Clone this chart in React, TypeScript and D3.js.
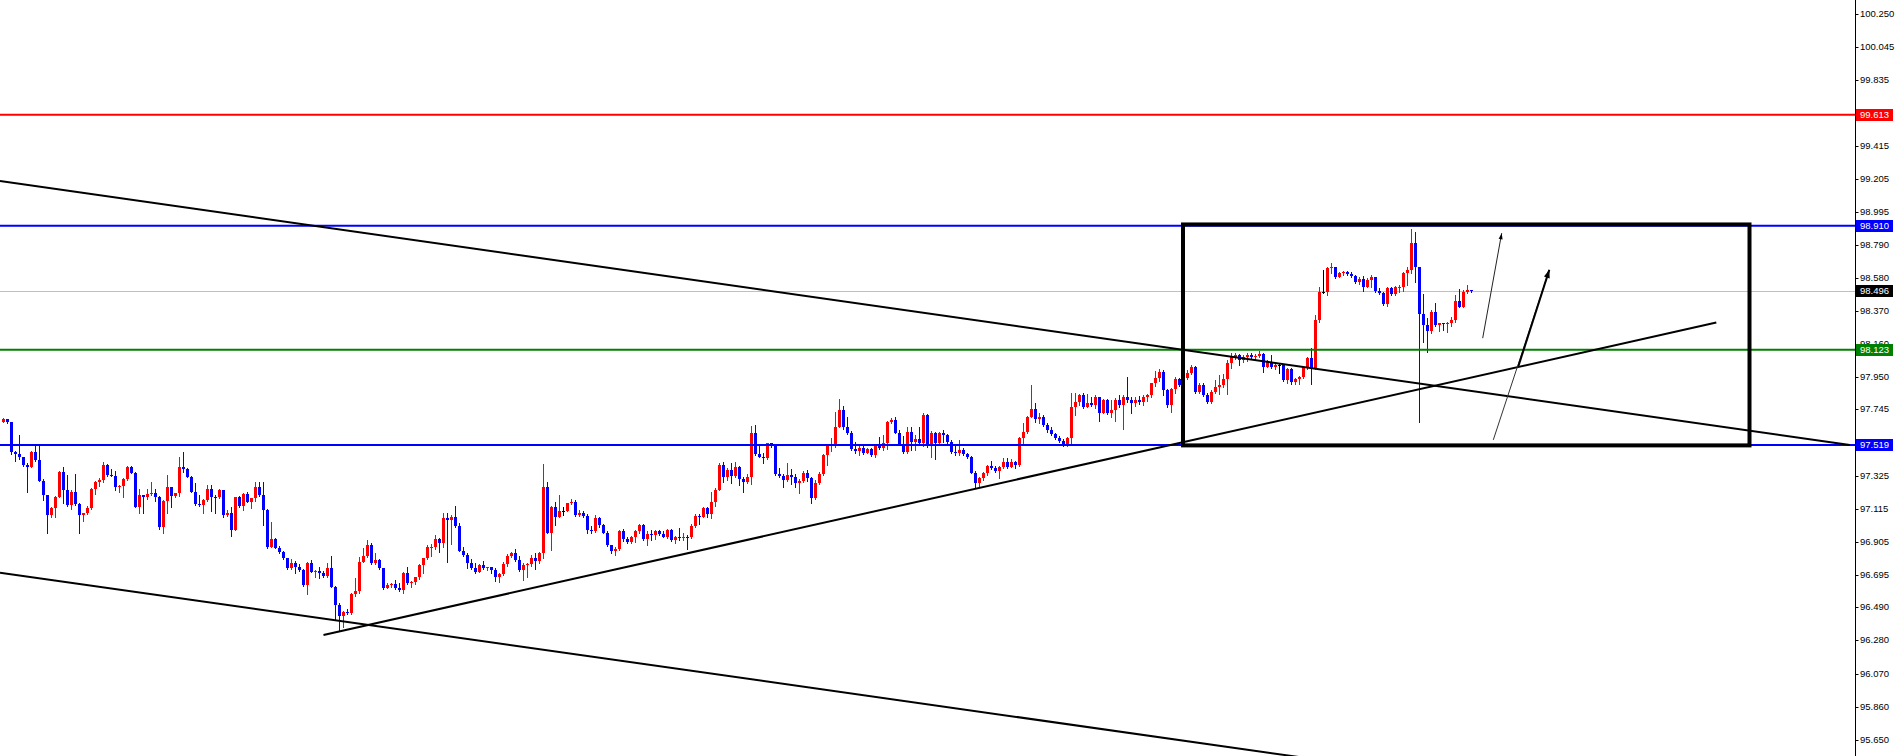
import React from 'react';
import * as d3 from 'd3';

const W = 1897;
const H = 756;
const AXIS_X = 1855.5;

const firstOpen = 97.668;

const closes = [
  97.683, 97.668, 97.472, 97.463, 97.446, 97.393, 97.383, 97.478, 97.425, 97.294,
  97.203, 97.076, 97.118, 97.192, 97.351, 97.235, 97.140, 97.224, 97.146, 97.076,
  97.087, 97.118, 97.239, 97.288, 97.298, 97.393, 97.330, 97.324, 97.252, 97.260,
  97.305, 97.383, 97.345, 97.129, 97.203, 97.188, 97.209, 97.218, 97.192, 97.002,
  97.167, 97.252, 97.197, 97.214, 97.383, 97.366, 97.319, 97.224, 97.146, 97.140,
  97.171, 97.239, 97.192, 97.188, 97.235, 97.076, 97.087, 96.981, 97.188, 97.133,
  97.209, 97.161, 97.182, 97.252, 97.203, 97.108, 96.875, 96.922, 96.869, 96.844,
  96.801, 96.738, 96.774, 96.744, 96.727, 96.632, 96.774, 96.717, 96.723, 96.711,
  96.689, 96.738, 96.622, 96.505, 96.436, 96.463, 96.453, 96.575, 96.596, 96.780,
  96.816, 96.886, 96.770, 96.791, 96.738, 96.611, 96.632, 96.639, 96.611, 96.600,
  96.710, 96.643, 96.653, 96.681, 96.759, 96.801, 96.871, 96.875, 96.922, 96.901,
  97.055, 97.044, 97.066, 97.006, 96.850, 96.822, 96.770, 96.738, 96.717, 96.759,
  96.738, 96.744, 96.727, 96.681, 96.702, 96.765, 96.816, 96.833, 96.791, 96.727,
  96.759, 96.765, 96.801, 96.787, 96.833, 97.256, 96.964, 97.129, 97.066, 97.104,
  97.104, 97.150, 97.161, 97.076, 97.091, 97.070, 96.981, 96.971, 97.055, 97.013,
  96.964, 96.886, 96.850, 96.858, 96.977, 96.922, 96.907, 96.934, 96.977, 97.013,
  96.922, 96.956, 96.949, 96.971, 96.956, 96.939, 96.981, 96.918, 96.934, 96.928,
  96.939, 96.934, 97.006, 97.070, 97.066, 97.118, 97.082, 97.161, 97.235, 97.393,
  97.319, 97.362, 97.323, 97.378, 97.302, 97.288, 97.319, 97.598, 97.463, 97.446,
  97.436, 97.531, 97.510, 97.336, 97.323, 97.298, 97.330, 97.315, 97.277, 97.294,
  97.345, 97.309, 97.182, 97.281, 97.336, 97.457, 97.514, 97.526, 97.636, 97.742,
  97.636, 97.594, 97.493, 97.484, 97.499, 97.471, 97.493, 97.457, 97.514, 97.499,
  97.535, 97.668, 97.679, 97.598, 97.526, 97.478, 97.604, 97.541, 97.556, 97.531,
  97.710, 97.510, 97.594, 97.531, 97.594, 97.583, 97.541, 97.478, 97.467, 97.488,
  97.463, 97.442, 97.345, 97.277, 97.309, 97.340, 97.387, 97.372, 97.357, 97.378,
  97.414, 97.383, 97.414, 97.393, 97.562, 97.604, 97.700, 97.746, 97.683, 97.695,
  97.647, 97.615, 97.590, 97.562, 97.548, 97.520, 97.562, 97.763, 97.789, 97.837,
  97.763, 97.784, 97.774, 97.822, 97.725, 97.805, 97.721, 97.742, 97.805, 97.774,
  97.826, 97.805, 97.784, 97.805, 97.789, 97.822, 97.837, 97.911, 97.943, 97.985,
  97.869, 97.774, 97.873, 97.936, 97.901, 97.943, 97.979, 98.017, 97.858, 97.901,
  97.837, 97.795, 97.858, 97.890, 97.901, 97.937, 98.038, 98.076, 98.091, 98.059,
  98.080, 98.091, 98.076, 98.084, 98.097, 98.017, 98.048, 98.017, 98.027, 98.027,
  97.932, 98.000, 97.922, 97.937, 97.949, 98.013, 98.070, 98.006, 98.313, 98.492,
  98.492, 98.640, 98.651, 98.583, 98.613, 98.617, 98.604, 98.592, 98.550, 98.571,
  98.520, 98.566, 98.583, 98.499, 98.486, 98.414, 98.514, 98.478, 98.520, 98.524,
  98.609, 98.630, 98.803, 98.647, 98.351, 98.281, 98.245, 98.366, 98.281, 98.292,
  98.285, 98.292, 98.313, 98.435, 98.397, 98.492, 98.500, 98.496,
];

const highs = [
  97.689, 97.687, 97.668, 97.482, 97.584, 97.446, 97.404, 97.484, 97.520, 97.510,
  97.302, 97.203, 97.125, 97.197, 97.357, 97.383, 97.330, 97.231, 97.336, 97.154,
  97.091, 97.133, 97.248, 97.292, 97.309, 97.410, 97.397, 97.366, 97.357, 97.267,
  97.311, 97.389, 97.387, 97.349, 97.239, 97.205, 97.239, 97.288, 97.239, 97.197,
  97.171, 97.330, 97.252, 97.218, 97.442, 97.474, 97.376, 97.324, 97.277, 97.203,
  97.176, 97.267, 97.267, 97.201, 97.239, 97.235, 97.108, 97.129, 97.192, 97.197,
  97.214, 97.224, 97.186, 97.288, 97.288, 97.288, 97.112, 97.034, 96.932, 96.880,
  96.848, 96.806, 96.795, 96.785, 96.765, 96.732, 96.778, 96.791, 96.727, 96.749,
  96.723, 96.774, 96.818, 96.626, 96.516, 96.470, 96.478, 96.584, 96.675, 96.812,
  96.865, 96.918, 96.897, 96.833, 96.795, 96.742, 96.647, 96.643, 96.664, 96.647,
  96.717, 96.749, 96.658, 96.685, 96.763, 96.806, 96.886, 96.892, 96.949, 96.928,
  97.087, 97.091, 97.076, 97.133, 97.023, 96.871, 96.833, 96.795, 96.770, 96.765,
  96.785, 96.749, 96.744, 96.738, 96.711, 96.780, 96.829, 96.844, 96.858, 96.816,
  96.770, 96.774, 96.822, 96.837, 96.844, 97.400, 97.283, 97.133, 97.161, 97.203,
  97.129, 97.154, 97.176, 97.171, 97.108, 97.104, 97.082, 97.006, 97.076, 97.066,
  97.019, 96.975, 96.886, 96.871, 96.981, 96.985, 96.934, 96.943, 96.981, 97.019,
  97.019, 96.971, 96.981, 96.981, 96.981, 96.977, 96.985, 96.985, 96.943, 96.992,
  96.960, 96.949, 97.019, 97.082, 97.082, 97.129, 97.129, 97.224, 97.245, 97.404,
  97.414, 97.372, 97.404, 97.414, 97.387, 97.319, 97.336, 97.641, 97.647, 97.520,
  97.471, 97.535, 97.526, 97.526, 97.372, 97.336, 97.408, 97.366, 97.336, 97.302,
  97.357, 97.362, 97.319, 97.298, 97.351, 97.463, 97.526, 97.562, 97.731, 97.810,
  97.767, 97.700, 97.611, 97.541, 97.510, 97.510, 97.499, 97.499, 97.520, 97.569,
  97.583, 97.674, 97.689, 97.695, 97.615, 97.577, 97.632, 97.636, 97.583, 97.636,
  97.725, 97.717, 97.611, 97.604, 97.604, 97.615, 97.590, 97.552, 97.520, 97.552,
  97.499, 97.467, 97.450, 97.357, 97.319, 97.351, 97.393, 97.421, 97.387, 97.387,
  97.436, 97.436, 97.429, 97.418, 97.573, 97.657, 97.704, 97.901, 97.784, 97.721,
  97.710, 97.657, 97.632, 97.598, 97.577, 97.556, 97.573, 97.848, 97.848, 97.843,
  97.848, 97.843, 97.822, 97.837, 97.826, 97.810, 97.810, 97.805, 97.816, 97.837,
  97.837, 97.953, 97.822, 97.822, 97.831, 97.837, 97.843, 97.915, 97.991, 98.000,
  97.996, 97.873, 97.879, 97.953, 97.943, 97.964, 97.996, 98.027, 98.021, 97.911,
  97.911, 97.848, 97.869, 97.932, 97.964, 97.971, 98.059, 98.101, 98.106, 98.097,
  98.091, 98.101, 98.101, 98.097, 98.118, 98.101, 98.059, 98.091, 98.038, 98.040,
  98.021, 98.006, 98.006, 97.943, 97.958, 98.017, 98.076, 98.133, 98.345, 98.524,
  98.630, 98.651, 98.672, 98.651, 98.619, 98.626, 98.626, 98.619, 98.598, 98.583,
  98.588, 98.577, 98.598, 98.583, 98.514, 98.492, 98.524, 98.524, 98.528, 98.535,
  98.619, 98.651, 98.888, 98.867, 98.651, 98.478, 98.323, 98.376, 98.419, 98.296,
  98.292, 98.302, 98.334, 98.471, 98.507, 98.503, 98.535, 98.503,
];

const lows = [
  97.666, 97.662, 97.463, 97.421, 97.433, 97.389, 97.224, 97.378, 97.421, 97.290,
  97.171, 96.960, 97.066, 97.066, 97.188, 97.150, 97.133, 97.112, 97.142, 96.964,
  97.040, 97.083, 97.114, 97.209, 97.262, 97.284, 97.326, 97.320, 97.231, 97.222,
  97.192, 97.298, 97.341, 97.125, 97.091, 97.091, 97.180, 97.201, 97.167, 96.985,
  96.960, 97.087, 97.129, 97.192, 97.197, 97.351, 97.315, 97.220, 97.142, 97.133,
  97.087, 97.167, 97.104, 97.091, 97.184, 97.066, 97.070, 96.943, 96.981, 97.129,
  97.108, 97.157, 97.118, 97.167, 97.199, 97.013, 96.869, 96.871, 96.865, 96.837,
  96.795, 96.734, 96.734, 96.710, 96.723, 96.628, 96.573, 96.713, 96.685, 96.675,
  96.685, 96.685, 96.617, 96.410, 96.347, 96.368, 96.448, 96.448, 96.565, 96.580,
  96.776, 96.812, 96.765, 96.765, 96.734, 96.607, 96.613, 96.617, 96.607, 96.596,
  96.584, 96.638, 96.622, 96.638, 96.670, 96.711, 96.795, 96.816, 96.858, 96.844,
  96.871, 96.780, 96.892, 97.002, 96.846, 96.816, 96.738, 96.734, 96.711, 96.717,
  96.734, 96.727, 96.711, 96.660, 96.653, 96.692, 96.755, 96.808, 96.787, 96.723,
  96.664, 96.685, 96.753, 96.732, 96.774, 96.801, 96.960, 96.854, 97.013, 97.061,
  97.076, 97.104, 97.146, 97.072, 97.070, 97.066, 96.964, 96.964, 96.966, 97.002,
  96.960, 96.880, 96.837, 96.822, 96.854, 96.913, 96.901, 96.896, 96.907, 96.960,
  96.918, 96.886, 96.918, 96.922, 96.949, 96.934, 96.928, 96.913, 96.901, 96.918,
  96.918, 96.858, 96.928, 96.998, 97.019, 97.061, 97.066, 97.055, 97.133, 97.231,
  97.288, 97.298, 97.281, 97.319, 97.266, 97.224, 97.277, 97.273, 97.457, 97.442,
  97.408, 97.429, 97.505, 97.330, 97.315, 97.252, 97.294, 97.273, 97.252, 97.218,
  97.288, 97.294, 97.150, 97.178, 97.273, 97.330, 97.393, 97.484, 97.505, 97.632,
  97.619, 97.590, 97.488, 97.471, 97.457, 97.463, 97.471, 97.450, 97.446, 97.493,
  97.488, 97.493, 97.658, 97.594, 97.520, 97.467, 97.471, 97.488, 97.488, 97.520,
  97.514, 97.505, 97.442, 97.429, 97.520, 97.541, 97.531, 97.471, 97.457, 97.457,
  97.457, 97.436, 97.340, 97.252, 97.260, 97.298, 97.330, 97.366, 97.351, 97.309,
  97.372, 97.372, 97.378, 97.372, 97.387, 97.531, 97.598, 97.695, 97.668, 97.657,
  97.643, 97.604, 97.583, 97.556, 97.541, 97.514, 97.514, 97.535, 97.710, 97.774,
  97.753, 97.763, 97.767, 97.753, 97.674, 97.721, 97.717, 97.695, 97.674, 97.763,
  97.619, 97.795, 97.721, 97.767, 97.780, 97.774, 97.801, 97.822, 97.894, 97.928,
  97.837, 97.763, 97.731, 97.848, 97.894, 97.890, 97.936, 97.970, 97.852, 97.852,
  97.831, 97.784, 97.784, 97.848, 97.843, 97.890, 97.843, 98.006, 98.063, 98.027,
  98.048, 98.055, 98.070, 98.063, 98.076, 97.985, 98.013, 98.006, 98.000, 97.979,
  97.928, 97.911, 97.907, 97.907, 97.907, 97.943, 98.000, 97.907, 98.000, 98.302,
  98.486, 98.471, 98.609, 98.577, 98.583, 98.598, 98.598, 98.583, 98.545, 98.541,
  98.499, 98.520, 98.524, 98.492, 98.478, 98.408, 98.402, 98.471, 98.471, 98.492,
  98.499, 98.535, 98.609, 98.556, 97.668, 98.175, 98.112, 98.228, 98.275, 98.245,
  98.249, 98.238, 98.275, 98.302, 98.393, 98.393, 98.486, 98.490,
];

const tickLabels = [
  '100.250', '100.045', '99.835', '99.415', '99.205', '98.995', '98.790', '98.580',
  '98.370', '98.160', '97.950', '97.745', '97.325', '97.115', '96.905', '96.695',
  '96.490', '96.280', '96.070', '95.860', '95.650',
];

// horizontal levels
const levelPrices = [99.613, 98.910, 98.123, 97.519];
const levelColors = ['#ff0000', '#0000ff', '#008000', '#0000ff'];
const lastPrice = 98.496;

// trend lines: [barIndex, price] pairs
const upperTrend: [number, number][] = [[-0.875, 99.194], [461.6, 97.519]];
const lowerTrend: [number, number][] = [[-0.875, 96.71], [461.6, 95.045]];
const risingTrend: [number, number][] = [[80, 96.315], [428.2, 98.296]];
const rangeBox: [number, number][] = [[294.875, 98.918], [436.5, 97.517]];
const arrowThin: [number, number][] = [[369.8, 98.197], [374.55, 98.863]];
const arrowBoldBase: [number, number][] = [[372.45, 97.552], [386.45, 98.63]];
const arrowBoldTop: [number, number][] = [[378.7, 98.017], [386.45, 98.63]];

const UP = '#ff0000';
const DOWN = '#0000ff';

function arrowHead(x1: number, y1: number, x2: number, y2: number, len: number, half: number) {
  const dx = x2 - x1;
  const dy = y2 - y1;
  const d = Math.hypot(dx, dy);
  const ux = dx / d;
  const uy = dy / d;
  const bx = x2 - ux * len;
  const by = y2 - uy * len;
  const px = -uy;
  const py = ux;
  return `${x2},${y2} ${bx + px * half},${by + py * half} ${bx - px * half},${by - py * half}`;
}

export default function App() {
  const x = d3.scaleLinear().domain([0, 100]).range([3.5, 403.5]);
  const y = d3.scaleLinear().domain([95.65, 100.25]).range([14.4 + 4.6 * 157.7, 14.4]);

  const candles = closes.map((c, i) => {
    const o = i === 0 ? firstOpen : closes[i - 1];
    const h = Math.max(highs[i], o, c);
    const l = Math.min(lows[i], o, c);
    const cx = Math.round(x(i) - 0.5) + 0.5;
    const doji = Math.abs(o - c) < 0.0005;
    const color = doji ? '#000000' : c > o ? UP : DOWN;
    const yTop = Math.round(y(Math.max(o, c)));
    const yBot = Math.round(y(Math.min(o, c)));
    const yH = Math.round(y(h));
    const yL = Math.round(y(l));
    return { cx, color, yTop, yBot, yH, yL, doji, i };
  });

  const font = "'Liberation Sans', Arial, sans-serif";
  const fs = 9.5;

  const seg = (pts: [number, number][]) => ({
    x1: x(pts[0][0]), y1: y(pts[0][1]), x2: x(pts[1][0]), y2: y(pts[1][1]),
  });

  const up = seg(upperTrend);
  const lo = seg(lowerTrend);
  const ri = seg(risingTrend);
  const a1 = seg(arrowThin);
  const a2 = seg(arrowBoldBase);
  const a3 = seg(arrowBoldTop);
  const bx1 = x(rangeBox[0][0]);
  const by1 = y(rangeBox[0][1]);
  const bx2 = x(rangeBox[1][0]);
  const by2 = y(rangeBox[1][1]);

  const labelBox = (p: number, fill: string, key: string) => {
    const yy = Math.round(y(p));
    return (
      <g key={key}>
        <rect x={1856} y={yy - 6} width={37} height={12} fill={fill} />
        <text x={1860} y={yy} dy="0.36em" fontSize={fs} fontFamily={font} fill="#ffffff">
          {p.toFixed(3)}
        </text>
      </g>
    );
  };

  return (
    <svg
      width={W}
      height={H}
      style={{ position: 'absolute', left: 0, top: 0, display: 'block', background: '#ffffff' }}
    >
      <defs>
        <clipPath id="plot">
          <rect x={0} y={0} width={AXIS_X - 0.5} height={H} />
        </clipPath>
      </defs>
      <rect x={0} y={0} width={W} height={H} fill="#ffffff" />
      <g clipPath="url(#plot)">
        {/* last price line (behind candles) */}
        <line x1={0} x2={AXIS_X} y1={Math.round(y(lastPrice)) + 0.5} y2={Math.round(y(lastPrice)) + 0.5} stroke="#c0c0c0" strokeWidth={1} />
        {/* candles */}
        {candles.map((k) => (
          <g key={k.i}>
            <line x1={k.cx} x2={k.cx} y1={k.yH} y2={k.yL + 1} stroke={k.color} strokeWidth={1} />
            {k.doji ? (
              <line x1={k.cx - 1.5} x2={k.cx + 1.5} y1={k.yTop + 0.5} y2={k.yTop + 0.5} stroke={k.color} strokeWidth={1} />
            ) : (
              <rect x={k.cx - 1.5} y={k.yTop} width={3} height={Math.max(1, k.yBot - k.yTop)} fill={k.color} />
            )}
          </g>
        ))}
        {/* horizontal levels */}
        {levelPrices.map((p, i) => (
          <line key={'lv' + i} x1={0} x2={AXIS_X} y1={y(p)} y2={y(p)} stroke={levelColors[i]} strokeWidth={2} />
        ))}
        {/* trend lines */}
        <line {...up} stroke="#000" strokeWidth={2} />
        <line {...lo} stroke="#000" strokeWidth={2} />
        <line {...ri} stroke="#000" strokeWidth={2} />
        {/* box */}
        <rect x={bx1} y={by1} width={bx2 - bx1} height={by2 - by1} fill="none" stroke="#000" strokeWidth={4} />
        {/* arrows */}
        <line {...a1} stroke="#222" strokeWidth={1} />
        <polygon points={arrowHead(a1.x1, a1.y1, a1.x2, a1.y2, 6, 2)} fill="#000" />
        <line {...a2} stroke="#333" strokeWidth={1} />
        <line {...a3} stroke="#000" strokeWidth={2} />
        <polygon points={arrowHead(a3.x1, a3.y1, a3.x2, a3.y2, 8, 3)} fill="#000" />
      </g>
      {/* price axis */}
      <line x1={AXIS_X} x2={AXIS_X} y1={0} y2={H} stroke="#000" strokeWidth={1} />
      {tickLabels.map((t) => {
        const yy = Math.round(y(Number(t)));
        return (
          <g key={t}>
            <line x1={AXIS_X} x2={AXIS_X + 3} y1={yy + 0.5} y2={yy + 0.5} stroke="#000" strokeWidth={1} />
            <text x={1860} y={yy} dy="0.36em" fontSize={fs} fontFamily={font} fill="#000">
              {t}
            </text>
          </g>
        );
      })}
      {levelPrices.map((p, i) => labelBox(p, levelColors[i], 'lb' + i))}
      {labelBox(lastPrice, '#000000', 'last')}
    </svg>
  );
}
